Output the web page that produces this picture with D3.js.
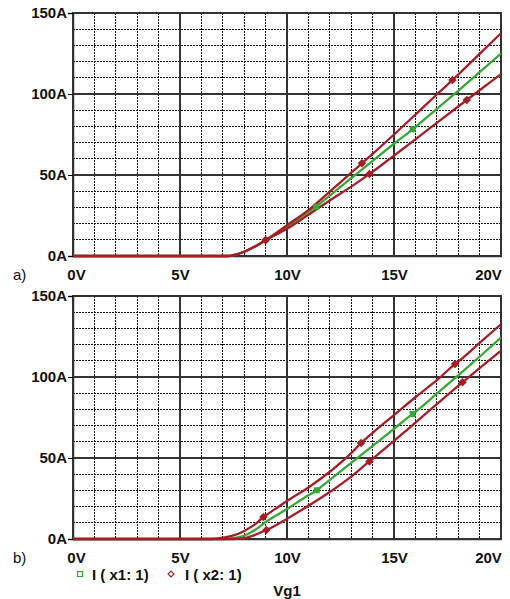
<!DOCTYPE html>
<html><head><meta charset="utf-8">
<script src="https://cdn.jsdelivr.net/npm/d3@7"></script>
<style>
body{margin:0;background:#fff;}
svg{display:block;font-family:"Liberation Sans",Arial,sans-serif;}
</style></head>
<body><svg id="c" width="510" height="599"></svg>
<script>
// ---- data ----
const xTicks = [0,5,10,15,20];
const yTicks = [0,50,100,150];
const xTickLabels = ["0V","5V","10V","15V","20V"];
const yTickLabels = ["0A","50A","100A","150A"];
const panelLabels = ["a)","b)"];
const legendLabels = ["I ( x1: 1)","I ( x2: 1)"];
const xTitle = "Vg1";

// Panel a
const aGreenV = [0,7.25,7.5,8,8.5,9,9.5,10,11,11.36,12,13,14,15,15.87,16,17,18,19,20];
const aGreenI = [0,0,0.5,2.6,5.8,9.8,13.5,18,27.3,30.4,37.3,48,58.7,69.3,78.2,79.6,90.8,102,113.5,125];
const aUpV = [0,7.25,7.5,8,8.5,9,10,11,12,13,13.5,14,15,16,17,17.73,18,19,20];
const aUpI = [0,0,0.5,2.6,5.8,9.8,19,28.3,39.8,51.4,57.2,63,75,87.3,99.7,108.6,112,124.8,137.5];
const aLowV = [0,7.25,7.5,8,8.5,9,10,11,12,13,13.85,14,15,16,17,18,18.4,19,20];
const aLowI = [0,0,0.5,2.6,5.8,9.8,16.8,25.5,34.3,42.8,50.6,52,62,72,82.2,92.3,96.3,102.3,112.3];
const aGreenMarks = [11.36,15.87];
const aUpMarks = [9,13.5,17.73];
const aLowMarks = [9,13.85,18.4];

// Panel b
const bGreenV = [0,7,7.5,8,8.5,9,10,11,11.39,12,13,14,15,15.87,16,17,18,19,20];
const bGreenI = [0,0,0.6,2,5.5,10.5,18.5,27,30.1,36.5,47,57.5,68,77.2,78.5,89.7,101,112.5,124.3];
const bUpV = [0,6.5,7,7.5,8,8.5,8.9,9,10,11,12,13,13.46,14,15,16,17,17.85,18,19,20];
const bUpI = [0,0,0.8,2.2,5,9,13.6,14.5,23.5,31.8,41.5,53,59.2,65.5,76.5,87.5,98,108,109.5,121,132.6];
const bLowV = [0,7.5,8,8.5,9,9.04,10,11,12,13,13.85,14,15,16,17,18,18.2,19,20];
const bLowI = [0,0,0.5,2.5,5.3,5.5,12.5,20.5,29,38.5,47.9,49.5,60.5,71.8,83.2,94.5,96.7,105.5,116.2];
const bGreenMarks = [11.39,15.87];
const bUpMarks = [8.9,13.46,17.85];
const bLowMarks = [9.04,13.85,18.2];

// ---- drawing ----
const RED = "#a81d25", GREEN = "#35a835";
const svg = d3.select("#c");
const x = d3.scaleLinear().domain([0,20]).range([73,501]);
const xMinor = d3.range(0,21,1);
const yMinor = d3.range(0,151,10);

function zip(v,i){return v.map((d,k)=>[d,i[k]]);}
function interp(v,i,val){
  for(let k=1;k<v.length;k++){ if(val<=v[k]){const t=(val-v[k-1])/(v[k]-v[k-1]);return i[k-1]+t*(i[k]-i[k-1]);} }
  return i[i.length-1];
}

function panel(top,bottom,series,label){
  const y = d3.scaleLinear().domain([0,150]).range([bottom,top]);
  const g = svg.append("g");
  // minor grid
  g.append("g").selectAll("line").data(xMinor.filter(d=>d%5!==0)).join("line")
    .attr("x1",d=>x(d)).attr("x2",d=>x(d)).attr("y1",top).attr("y2",bottom)
    .attr("stroke","#111").attr("stroke-width",1).attr("stroke-dasharray","2,1").attr("shape-rendering","crispEdges");
  g.append("g").selectAll("line").data(yMinor.filter(d=>d%50!==0)).join("line")
    .attr("y1",d=>y(d)).attr("y2",d=>y(d)).attr("x1",x(0)).attr("x2",x(20))
    .attr("stroke","#111").attr("stroke-width",1).attr("stroke-dasharray","2,1").attr("shape-rendering","crispEdges");
  // major grid
  g.append("g").selectAll("line").data(xTicks).join("line")
    .attr("x1",d=>x(d)).attr("x2",d=>x(d)).attr("y1",top).attr("y2",bottom)
    .attr("stroke","#333").attr("stroke-width",1.3).attr("shape-rendering","crispEdges");
  g.append("g").selectAll("line").data(yTicks).join("line")
    .attr("y1",d=>y(d)).attr("y2",d=>y(d)).attr("x1",x(0)).attr("x2",x(20))
    .attr("stroke","#333").attr("stroke-width",1.3).attr("shape-rendering","crispEdges");
  // border
  g.append("rect").attr("x",x(0)).attr("y",top).attr("width",x(20)-x(0)).attr("height",bottom-top)
    .attr("fill","none").attr("stroke","#333").attr("stroke-width",1.3).attr("shape-rendering","crispEdges");
  // axes
  const ya = g.append("g").attr("transform",`translate(${x(0)},0)`)
    .call(d3.axisLeft(y).tickValues(yTicks).tickSize(5).tickPadding(1).tickFormat((d,k)=>yTickLabels[k]));
  ya.select(".domain").attr("stroke","#333").attr("stroke-width",1.5);
  ya.selectAll("text").attr("font-size",15).attr("font-weight","bold").attr("fill","#111")
    .attr("font-family","Liberation Sans, Arial, sans-serif");
  const xa = g.append("g").attr("transform",`translate(0,${bottom})`)
    .call(d3.axisBottom(x).tickValues(xTicks).tickSize(0).tickPadding(13).tickFormat((d,k)=>xTickLabels[k]));
  xa.select(".domain").attr("stroke","#333").attr("stroke-width",1.5);
  xa.selectAll("text").attr("font-size",15).attr("font-weight","bold").attr("fill","#111")
    .attr("font-family","Liberation Sans, Arial, sans-serif");
  xa.selectAll(".tick").filter(d=>d===0).select("text").attr("dx",3);
  xa.selectAll(".tick").filter(d=>d===20).select("text").attr("dx",-13);
  g.append("text").attr("x",13).attr("y",bottom+24).text(label)
    .attr("font-size",15).attr("fill","#111");
  // curves
  const line = d3.line().x(d=>x(d[0])).y(d=>y(d[1])).curve(d3.curveMonotoneX);
  series.forEach(s=>{
    g.append("path").datum(zip(s.v,s.i)).attr("d",line)
      .attr("fill","none").attr("stroke",s.color).attr("stroke-width",2.3);
  });
  series.forEach(s=>{
    s.marks.forEach(m=>{
      const px=x(m), py=y(interp(s.v,s.i,m));
      if(s.shape==="sq"){
        g.append("rect").attr("x",px-3).attr("y",py-3).attr("width",6).attr("height",6).attr("fill",s.color);
      } else {
        g.append("path").attr("d",d3.symbol(d3.symbolDiamond2,46)()).attr("transform",`translate(${px},${py})`).attr("fill",s.color);
      }
    });
  });
}

panel(13,256,[
  {v:aGreenV,i:aGreenI,color:GREEN,marks:aGreenMarks,shape:"sq"},
  {v:aLowV,i:aLowI,color:RED,marks:aLowMarks,shape:"di"},
  {v:aUpV,i:aUpI,color:RED,marks:aUpMarks,shape:"di"}
],panelLabels[0]);
panel(296,539,[
  {v:bGreenV,i:bGreenI,color:GREEN,marks:bGreenMarks,shape:"sq"},
  {v:bLowV,i:bLowI,color:RED,marks:bLowMarks,shape:"di"},
  {v:bUpV,i:bUpI,color:RED,marks:bUpMarks,shape:"di"}
],panelLabels[1]);

// legend
const lg = svg.append("g");
lg.append("rect").attr("x",77.5).attr("y",571.5).attr("width",5).attr("height",5)
  .attr("fill","none").attr("stroke",GREEN).attr("stroke-width",1.2);
lg.append("text").attr("x",92).attr("y",580).text(legendLabels[0])
  .attr("font-size",15).attr("font-weight","bold").attr("fill","#111");
lg.append("path").attr("d",d3.symbol(d3.symbolDiamond2,22)()).attr("transform","translate(171,574)")
  .attr("fill","none").attr("stroke",RED).attr("stroke-width",1.2);
lg.append("text").attr("x",185).attr("y",580).text(legendLabels[1])
  .attr("font-size",15).attr("font-weight","bold").attr("fill","#111");
svg.append("text").attr("x",287).attr("y",596).attr("text-anchor","middle").text(xTitle)
  .attr("font-size",15).attr("font-weight","bold").attr("fill","#111");
</script></body></html>
